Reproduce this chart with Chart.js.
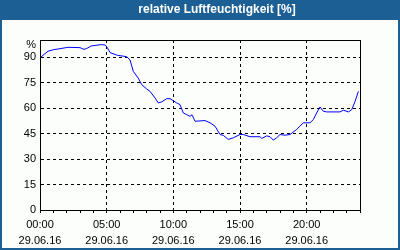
<!DOCTYPE html>
<html>
<head>
<meta charset="utf-8">
<script src="https://cdn.jsdelivr.net/npm/chart.js@4"></script>
<style>
html, body { margin: 0; padding: 0; background: #fbfefb; }
</style>
</head>
<body>
<canvas id="myChart" width="400" height="250"></canvas>
<script>
var titleText = "relative Luftfeuchtigkeit [%]";
var unitLabel = "%";
var hourLabels = ["00:00", "05:00", "10:00", "15:00", "20:00"];
var dateLabel = "29.06.16";

// hours since midnight, relative humidity in %
var hours = [0, 0.3, 0.6, 1.0, 1.35, 2.1, 3.0, 3.3, 3.5, 3.85, 4.6, 4.9, 5.05, 5.25, 5.8, 6.5,
    6.75, 7.0, 7.37, 7.63, 8.0, 8.25, 8.63, 8.87, 9.13, 9.5, 9.75, 10.25, 10.5, 10.75, 11.0,
    11.25, 11.4, 11.63, 12.38, 12.75, 13.13, 13.5, 13.75, 14.12, 14.5, 15.0, 15.25, 15.75,
    16.5, 16.63, 17.0, 17.25, 17.5, 17.75, 18.0, 18.38, 18.75, 19.25, 19.75, 20.25, 20.5,
    20.75, 21.0, 21.25, 21.5, 22.5, 22.75, 23.13, 23.38, 23.63, 23.88];
var humidity = [89.5, 91.5, 93.4, 94.3, 94.7, 95.7, 95.5, 94.5, 95, 96.5, 97.3, 97, 95.5, 92.6, 91, 90.2,
    88.3, 81.5, 77.6, 73.7, 71.2, 69.8, 65.9, 63, 63.6, 65.5, 65.5, 63, 62, 57.1, 56.1,
    55.1, 56, 52.2, 52.6, 51.3, 49.3, 44.4, 43.9, 41.5, 42.5, 44.4, 44.4, 43.1,
    43.1, 42.1, 43.6, 43.1, 41.1, 42.5, 44.4, 44, 44.4, 47.4, 51.3, 51.3, 53.2,
    57.1, 60.6, 58.1, 57.7, 57.7, 58.7, 57.7, 59, 63.9, 69.8];

var points = hours.map(function (h, i) { return { x: h, y: humidity[i] }; });

Chart.defaults.font.family = "'Liberation Sans', Arial, sans-serif";
Chart.defaults.font.size = 11;
Chart.defaults.color = "#000";

var frame = {
    id: "frame",
    beforeDraw: function (chart) {
        var c = chart.ctx;
        c.save();
        c.fillStyle = "#fbfefb";
        c.fillRect(0, 0, 400, 250);
        c.fillStyle = "#1c5f94";
        c.fillRect(0, 0, 400, 20);
        c.fillRect(0, 0, 2, 250);
        c.fillRect(398, 0, 2, 250);
        c.fillRect(0, 248, 400, 2);
        c.fillStyle = "#fff";
        c.font = "bold 12px 'Liberation Sans', Arial, sans-serif";
        c.textAlign = "center";
        c.textBaseline = "middle";
        c.fillText(titleText, 217, 10);
        c.restore();
    },
    afterDraw: function (chart) {
        var a = chart.chartArea;
        var c = chart.ctx;
        c.save();
        c.strokeStyle = "#000";
        c.lineWidth = 1;
        c.strokeRect(Math.round(a.left) + 0.5, Math.round(a.top) + 0.5,
            Math.round(a.right - a.left), Math.round(a.bottom - a.top));
        c.fillStyle = "#000";
        c.font = "11px 'Liberation Sans', Arial, sans-serif";
        c.textAlign = "right";
        c.textBaseline = "middle";
        c.fillText(unitLabel, 36, 45);
        c.restore();
    }
};

new Chart("myChart", {
    type: "line",
    data: {
        datasets: [{
            data: points,
            borderColor: "#0000ff",
            borderWidth: 1,
            pointRadius: 0,
            tension: 0,
            fill: false
        }]
    },
    options: {
        responsive: false,
        animation: false,
        layout: { padding: { top: 40, right: 40, left: 0, bottom: 0 } },
        plugins: { legend: { display: false }, title: { display: false }, tooltip: { enabled: false } },
        scales: {
            x: {
                type: "linear",
                min: 0,
                max: 24,
                afterFit: function (s) { s.height = 40; },
                border: { color: "#000", dash: [3, 3] },
                grid: {
                    color: function (ctx) {
                        var v = ctx.tick ? ctx.tick.value : 0;
                        return (v % 5 === 0 && v > 0 && v < 24) ? "#000" : "rgba(0,0,0,0)";
                    },
                    tickColor: "#000",
                    tickLength: 3
                },
                ticks: {
                    stepSize: 1,
                    autoSkip: false,
                    maxRotation: 0,
                    padding: 4,
                    font: { lineHeight: "16px" },
                    callback: function (v) {
                        if (v % 5 === 0 && v < 24) return [hourLabels[v / 5], dateLabel];
                        return "";
                    }
                }
            },
            y: {
                min: 0,
                max: 100,
                afterFit: function (s) { s.width = 40; },
                border: { color: "#000", dash: [3, 3] },
                grid: {
                    drawTicks: false,
                    color: function (ctx) {
                        var v = ctx.tick ? ctx.tick.value : 0;
                        return (v > 0 && v < 100) ? "#000" : "rgba(0,0,0,0)";
                    }
                },
                ticks: {
                    stepSize: 15,
                    padding: 4,
                    callback: function (v) { return v === 100 ? "" : v; }
                }
            }
        }
    },
    plugins: [frame]
});
</script>
</body>
</html>
